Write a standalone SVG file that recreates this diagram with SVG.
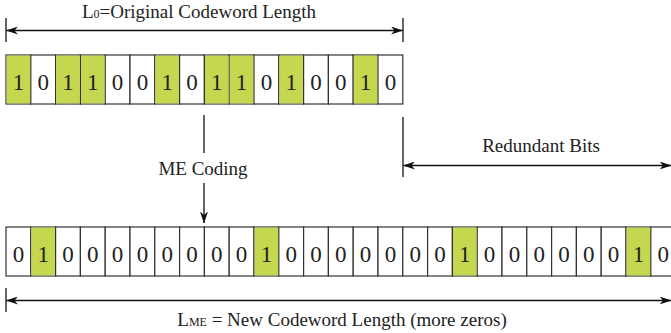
<svg xmlns="http://www.w3.org/2000/svg" width="671" height="333" viewBox="0 0 671 333">
  <defs>
    <style>
      .cell { fill: #ffffff; stroke: #333333; stroke-width: 1.2; }
      .one { fill: #c4d74f; }
      .bit { font-size: 23px; fill: #222222; text-anchor: middle; }
      .lbl { font-size: 19px; fill: #222222; text-anchor: middle; }
      .sub { font-size: 12px; }
      .ln { stroke: #111111; stroke-width: 1.3; fill: none; }
    </style>
    <marker id="ah" viewBox="0 0 12 8" refX="11.5" refY="4" markerWidth="12" markerHeight="8" markerUnits="userSpaceOnUse" orient="auto-start-reverse">
      <path d="M0,0 L12,4 L0,8 L3.5,4 Z" fill="#111111"/>
    </marker>
  </defs>

  <g font-family="Liberation Serif, Times New Roman, serif">
  <!-- original codeword, 16 bits -->
  <g id="original-codeword">
    <rect class="cell" x="6" y="55" width="24.8" height="49"/>
    <rect class="cell" x="30.8" y="55" width="24.8" height="49"/>
    <rect class="cell" x="55.6" y="55" width="24.8" height="49"/>
    <rect class="cell" x="80.4" y="55" width="24.8" height="49"/>
    <rect class="cell" x="105.2" y="55" width="24.8" height="49"/>
    <rect class="cell" x="130" y="55" width="24.8" height="49"/>
    <rect class="cell" x="154.8" y="55" width="24.8" height="49"/>
    <rect class="cell" x="179.6" y="55" width="24.8" height="49"/>
    <rect class="cell" x="204.4" y="55" width="24.8" height="49"/>
    <rect class="cell" x="229.2" y="55" width="24.8" height="49"/>
    <rect class="cell" x="254" y="55" width="24.8" height="49"/>
    <rect class="cell" x="278.8" y="55" width="24.8" height="49"/>
    <rect class="cell" x="303.6" y="55" width="24.8" height="49"/>
    <rect class="cell" x="328.4" y="55" width="24.8" height="49"/>
    <rect class="cell" x="353.2" y="55" width="24.8" height="49"/>
    <rect class="cell" x="378" y="55" width="24.8" height="49"/>
    <g class="one">
      <rect x="6.6" y="55.6" width="23.6" height="47.8"/>
      <rect x="56.2" y="55.6" width="23.6" height="47.8"/>
      <rect x="81" y="55.6" width="23.6" height="47.8"/>
      <rect x="155.4" y="55.6" width="23.6" height="47.8"/>
      <rect x="205" y="55.6" width="23.6" height="47.8"/>
      <rect x="229.8" y="55.6" width="23.6" height="47.8"/>
      <rect x="279.4" y="55.6" width="23.6" height="47.8"/>
      <rect x="353.8" y="55.6" width="23.6" height="47.8"/>
    </g>
    <g class="bit">
      <text x="18.4" y="90">1</text>
      <text x="43.2" y="90">0</text>
      <text x="68" y="90">1</text>
      <text x="92.8" y="90">1</text>
      <text x="117.6" y="90">0</text>
      <text x="142.4" y="90">0</text>
      <text x="167.2" y="90">1</text>
      <text x="192" y="90">0</text>
      <text x="216.8" y="90">1</text>
      <text x="241.6" y="90">1</text>
      <text x="266.4" y="90">0</text>
      <text x="291.2" y="90">1</text>
      <text x="316" y="90">0</text>
      <text x="340.8" y="90">0</text>
      <text x="365.6" y="90">1</text>
      <text x="390.4" y="90">0</text>
    </g>
  </g>

  <!-- ME coded word, 27 bits (runs past the right edge) -->
  <g id="me-codeword">
    <rect class="cell" x="6" y="227" width="24.8" height="49"/>
    <rect class="cell" x="30.8" y="227" width="24.8" height="49"/>
    <rect class="cell" x="55.6" y="227" width="24.8" height="49"/>
    <rect class="cell" x="80.4" y="227" width="24.8" height="49"/>
    <rect class="cell" x="105.2" y="227" width="24.8" height="49"/>
    <rect class="cell" x="130" y="227" width="24.8" height="49"/>
    <rect class="cell" x="154.8" y="227" width="24.8" height="49"/>
    <rect class="cell" x="179.6" y="227" width="24.8" height="49"/>
    <rect class="cell" x="204.4" y="227" width="24.8" height="49"/>
    <rect class="cell" x="229.2" y="227" width="24.8" height="49"/>
    <rect class="cell" x="254" y="227" width="24.8" height="49"/>
    <rect class="cell" x="278.8" y="227" width="24.8" height="49"/>
    <rect class="cell" x="303.6" y="227" width="24.8" height="49"/>
    <rect class="cell" x="328.4" y="227" width="24.8" height="49"/>
    <rect class="cell" x="353.2" y="227" width="24.8" height="49"/>
    <rect class="cell" x="378" y="227" width="24.8" height="49"/>
    <rect class="cell" x="402.8" y="227" width="24.8" height="49"/>
    <rect class="cell" x="427.6" y="227" width="24.8" height="49"/>
    <rect class="cell" x="452.4" y="227" width="24.8" height="49"/>
    <rect class="cell" x="477.2" y="227" width="24.8" height="49"/>
    <rect class="cell" x="502" y="227" width="24.8" height="49"/>
    <rect class="cell" x="526.8" y="227" width="24.8" height="49"/>
    <rect class="cell" x="551.6" y="227" width="24.8" height="49"/>
    <rect class="cell" x="576.4" y="227" width="24.8" height="49"/>
    <rect class="cell" x="601.2" y="227" width="24.8" height="49"/>
    <rect class="cell" x="626" y="227" width="24.8" height="49"/>
    <rect class="cell" x="650.8" y="227" width="24.8" height="49"/>
    <g class="one">
      <rect x="31.4" y="227.6" width="23.6" height="47.8"/>
      <rect x="254.6" y="227.6" width="23.6" height="47.8"/>
      <rect x="453" y="227.6" width="23.6" height="47.8"/>
      <rect x="626.6" y="227.6" width="23.6" height="47.8"/>
    </g>
    <g class="bit">
      <text x="18.4" y="262">0</text>
      <text x="43.2" y="262">1</text>
      <text x="68" y="262">0</text>
      <text x="92.8" y="262">0</text>
      <text x="117.6" y="262">0</text>
      <text x="142.4" y="262">0</text>
      <text x="167.2" y="262">0</text>
      <text x="192" y="262">0</text>
      <text x="216.8" y="262">0</text>
      <text x="241.6" y="262">0</text>
      <text x="266.4" y="262">1</text>
      <text x="291.2" y="262">0</text>
      <text x="316" y="262">0</text>
      <text x="340.8" y="262">0</text>
      <text x="365.6" y="262">0</text>
      <text x="390.4" y="262">0</text>
      <text x="415.2" y="262">0</text>
      <text x="440" y="262">0</text>
      <text x="464.8" y="262">1</text>
      <text x="489.6" y="262">0</text>
      <text x="514.4" y="262">0</text>
      <text x="539.2" y="262">0</text>
      <text x="564" y="262">0</text>
      <text x="588.8" y="262">0</text>
      <text x="613.6" y="262">0</text>
      <text x="638.4" y="262">1</text>
      <text x="663.2" y="262">0</text>
    </g>
  </g>

  <!-- dimension lines and the coding arrow -->
  <g id="connectors">
    <line class="ln" x1="6" y1="18" x2="6" y2="42"/>
    <line class="ln" x1="403" y1="18" x2="403" y2="42"/>
    <line class="ln" x1="6.5" y1="30.5" x2="402.5" y2="30.5" marker-start="url(#ah)" marker-end="url(#ah)"/>

    <line class="ln" x1="204" y1="115" x2="204" y2="153"/>
    <line class="ln" x1="204" y1="183" x2="204" y2="223" marker-end="url(#ah)"/>

    <line class="ln" x1="403" y1="117" x2="403" y2="177"/>
    <line class="ln" x1="403.5" y1="165.5" x2="671" y2="165.5" marker-start="url(#ah)" marker-end="url(#ah)"/>

    <line class="ln" x1="6" y1="288" x2="6" y2="312"/>
    <line class="ln" x1="6.5" y1="300.5" x2="671" y2="300.5" marker-start="url(#ah)" marker-end="url(#ah)"/>
  </g>

  <g id="labels" class="lbl">
    <text x="199" y="18">L<tspan class="sub">0</tspan>=Original Codeword Length</text>
    <text x="203" y="175">ME Coding</text>
    <text x="541" y="152">Redundant Bits</text>
    <text x="342" y="326">L<tspan class="sub">ME</tspan> = New Codeword Length (more zeros)</text>
  </g>
  </g>
</svg>
